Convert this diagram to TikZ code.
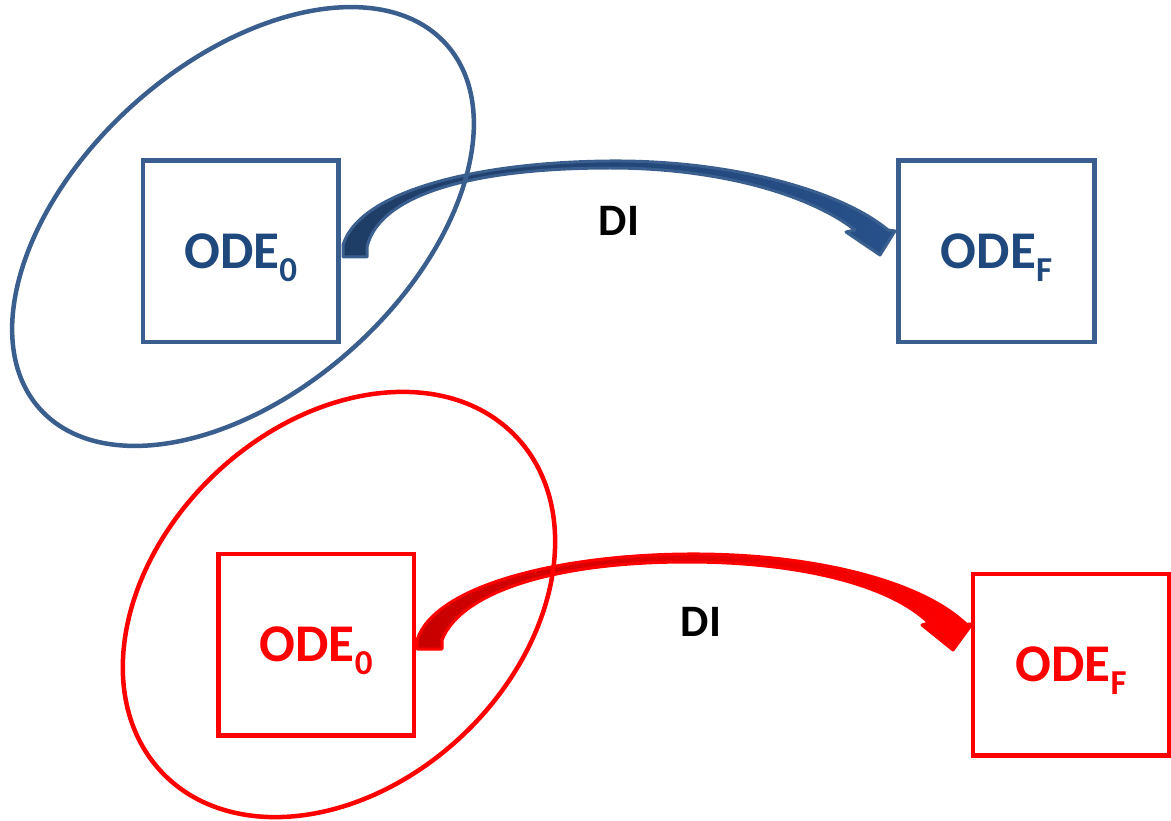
\documentclass[tikz,border=0pt]{standalone}
\usepackage{fontspec}
\setmainfont{Carlito}
\definecolor{bstroke}{HTML}{3A5F8F}
\definecolor{btext}{HTML}{1F497D}
\definecolor{bdark}{HTML}{1E3D66}
\definecolor{bmid}{HTML}{27508A}
\definecolor{rstroke}{HTML}{FF0000}
\definecolor{rdark}{HTML}{C80000}
\tikzset{
  bluebox/.style={draw=bstroke, line width=4.5pt, minimum width=195.7pt, minimum height=181.5pt, inner sep=0pt, text height=34pt, text depth=0pt, text=btext, font=\bfseries\fontsize{53}{60}\selectfont},
  redbox/.style={bluebox, draw=rstroke, text=rstroke},
  dilabel/.style={font=\bfseries\fontsize{45}{50}\selectfont, text=black, inner sep=0pt},
  blueloop/.style={draw=bstroke, line width=4.5pt},
  redloop/.style={draw=rstroke, line width=4.5pt},
}
\newcommand{\subsc}[1]{\raisebox{-13pt}{\fontsize{35}{40}\selectfont #1}}
\begin{document}
\begin{tikzpicture}[x=1pt,y=-1pt]
\useasboundingbox (0,0) rectangle (1171,821);

% boxes
\node[bluebox] (b0) at (240.8,251.3) {ODE\subsc{0}};
\node[bluebox] (bf) at (996.5,251.3) {ODE\subsc{F}};
\node[redbox] (r0) at (316.2,644.5) {ODE\subsc{0}};
\node[redbox] (rf) at (1071,664.5) {ODE\subsc{F}};

% labels
\node[dilabel] (dib) at (619,221) {DI};
\node[dilabel] (dir) at (701,622) {DI};

% blue curved arrow
\path[draw=bstroke, line width=3pt, line join=round, left color=bdark, right color=bmid]
  (343,245) .. controls (360,190) and (480,162) .. (610,161)
  .. controls (730,160) and (840,190) .. (888,230)
  -- (895,231) -- (880,255) -- (846,232) -- (855,230)
  .. controls (810,195) and (720,168) .. (610,168)
  .. controls (480,168) and (380,192) .. (367,247)
  -- (367,257) -- (343,257) -- cycle;

% red curved arrow
\path[draw=rstroke, line width=3pt, line join=round, left color=rdark, right color=rstroke]
  (417,640) .. controls (435,585) and (560,555) .. (687,554)
  .. controls (810,553) and (920,580) .. (966,624)
  -- (972,624) -- (953,650) -- (922,625) -- (929,623)
  .. controls (890,585) and (800,562) .. (687,562)
  .. controls (560,562) and (462,590) .. (442,640)
  -- (442,649) -- (417,649) -- cycle;

% loops
\coordinate (bc) at (243,226.5);
\coordinate (rc) at (339,604.5);
\draw[blueloop, rotate around={41.9:(bc)}] (bc) ellipse [x radius=273, y radius=164];
\draw[redloop, rotate around={43.4:(rc)}] (rc) ellipse [x radius=244, y radius=180];
\end{tikzpicture}
\end{document}
